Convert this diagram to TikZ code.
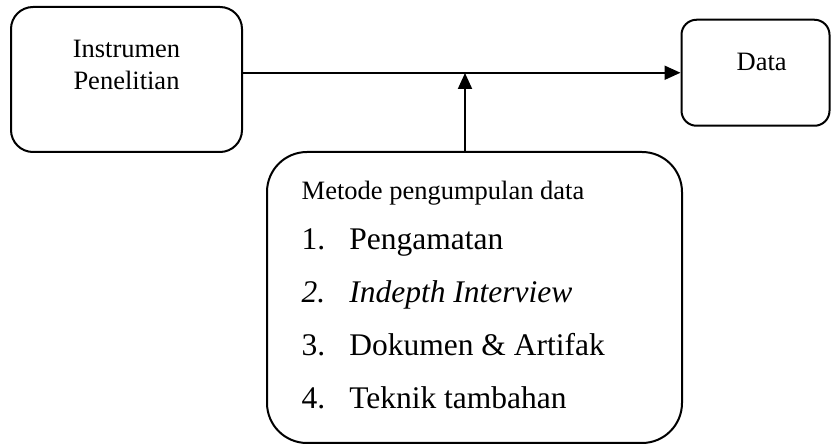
\documentclass[tikz,border=0pt]{standalone}
\usepackage{fontspec}
\setmainfont{Liberation Serif}
\usepackage{tikz}
\usetikzlibrary{arrows.meta}
\usetikzlibrary{positioning}
\newcommand{\boxfont}{\fontsize{26.5}{32}\selectfont}
\newcommand{\listfont}{\fontsize{31.5}{38}\selectfont}

\begin{document}
\begin{tikzpicture}[x=1pt, y=-1pt, line width=2pt,
    box/.style={draw, rounded corners=#1, inner sep=0pt},
    label-text/.style={inner sep=0pt, font=\boxfont},
    flow/.style={-{Triangle[length=16pt,width=14pt]}}]
  \useasboundingbox (0,0) rectangle (831,446);

  \node[box=22pt, minimum width=231pt, minimum height=145pt] (is-instr) at (126.5,79.5) {};
  \node[box=15pt, minimum width=148pt, minimum height=106pt] (is-data) at (755.5,72.75) {};
  \node[box=40pt, minimum width=415pt, minimum height=291pt] (is-metode) at (474.5,297.5) {};

  \node[label-text, align=center, anchor=base] (instr-text) at (126.5,89.3) {Instrumen\\Penelitian};
  \node[label-text, anchor=base] (data-text) at (761.7,71) {Data};
  \node[label-text, anchor=base west] (metode-text) at (300.7,200) {Metode pengumpulan data};

  \foreach \num/\txt [count=\i] in {1./Pengamatan, \textit{2.}/\textit{Indepth Interview},
      3./Dokumen \& Artifak, 4./Teknik tambahan} {
    \node[inner sep=0pt, font=\listfont, anchor=base west] (num-\i) at (300.7,197+53*\i) {\num};
    \node[inner sep=0pt, font=\listfont, anchor=base west] (item-\i) at (348.3,197+53*\i) {\txt};
  }

  \coordinate (join) at (465,73);
  \draw[flow] (is-instr.east |- is-data.west) -- (is-data.west);
  \draw[flow] (is-metode.north -| join) -- (join);
\end{tikzpicture}
\end{document}
